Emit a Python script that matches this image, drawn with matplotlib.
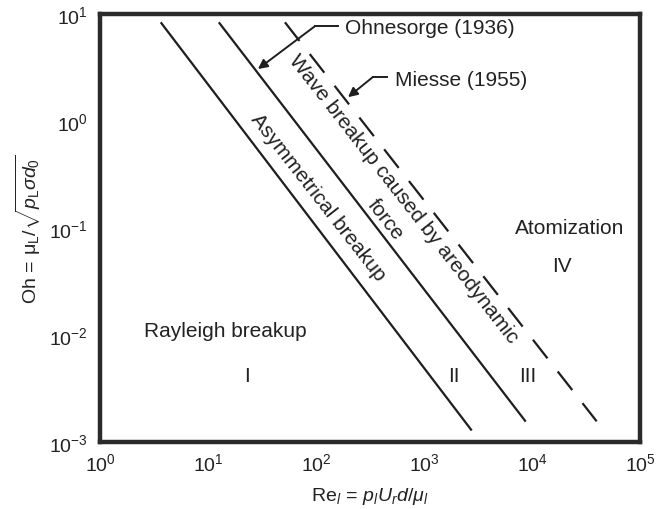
import matplotlib
matplotlib.use('Agg')
import matplotlib.pyplot as plt
from matplotlib import rcParams

# Regime boundaries: end points of straight lines in log-log
re_asym = [3.65, 2766]
oh_asym = [8.36, 1.28e-3]
re_ohnesorge = [12.6, 8750]
oh_ohnesorge = [8.36, 1.55e-3]
re_miesse = [51.6, 39700]
oh_miesse = [8.36, 1.56e-3]

# Region labels
region_text = ['Rayleigh breakup', 'I', 'II', 'III', 'Atomization', 'IV']
region_re = [14.4, 23, 1896, 9180, 22500, 18800]
region_oh = [0.0111, 0.00414, 0.00414, 0.00414, 0.102, 0.0444]

# Labels running along the lines
slant_text = ['Asymmetrical breakup', 'Wave breakup caused by areodynamic', 'force']
slant_re = [104, 650, 435]
slant_oh = [0.195, 0.19, 0.121]

# Callouts: text anchor, elbow, arrow tip
ohn_text = (186, 7.4)
ohn_path = [(160, 7.7), (97.9, 7.7), (29, 3.06)]
mie_text = (539, 2.42)
mie_path = [(454, 2.58), (337, 2.58), (198, 1.67)]

rcParams['font.family'] = 'Liberation Sans'
rcParams['mathtext.fontset'] = 'custom'
rcParams['mathtext.rm'] = 'Liberation Sans'
rcParams['mathtext.it'] = 'Liberation Sans:italic'
rcParams['mathtext.bf'] = 'Liberation Sans:bold'
rcParams['lines.scale_dashes'] = False

fig = plt.figure(figsize=(6.6, 5.1), dpi=100)
ax = fig.add_axes([0.1515, 0.1314, 0.8182, 0.8392])

lc = '#1e1e1e'
ax.plot(re_asym, oh_asym, color=lc, lw=1.6, solid_capstyle='butt')
ax.plot(re_ohnesorge, oh_ohnesorge, color=lc, lw=1.6, solid_capstyle='butt')
ax.plot(re_miesse, oh_miesse, color=lc, lw=1.6, dashes=(17, 12),
        dash_capstyle='butt')

ax.set_xscale('log')
ax.set_yscale('log')
ax.set_xlim(1, 1e5)
ax.set_ylim(1e-3, 1e1)
ax.minorticks_off()
ax.set_xticks([1, 10, 100, 1e3, 1e4, 1e5])
ax.set_yticks([1e-3, 1e-2, 1e-1, 1, 10])
ax.tick_params(length=0, labelsize=14, colors='#222222')
ax.tick_params(axis='x', pad=7)
ax.tick_params(axis='y', pad=9)

for s in ax.spines.values():
    s.set_linewidth(3.2)
    s.set_color('#2a2a2a')

fs = 15
for t, x, y in zip(region_text, region_re, region_oh):
    ax.text(x, y, t, fontsize=fs, ha='center', va='center', color='#222222')

for t, x, y in zip(slant_text, slant_re, slant_oh):
    ax.text(x, y, t, fontsize=fs, ha='center', va='center', rotation=-52,
            rotation_mode='anchor', color='#222222')

# Ohnesorge (1936) callout
ax.text(ohn_text[0], ohn_text[1], 'Ohnesorge (1936)', fontsize=fs,
        ha='left', va='center', color='#222222')
ax.plot([p[0] for p in ohn_path[:2]], [p[1] for p in ohn_path[:2]],
        color=lc, lw=1.4)
ax.annotate('', xy=ohn_path[2], xytext=ohn_path[1],
            arrowprops=dict(arrowstyle='-|>', color=lc, lw=1.4,
                            mutation_scale=14, shrinkA=0, shrinkB=0))

# Miesse (1955) callout
ax.text(mie_text[0], mie_text[1], 'Miesse (1955)', fontsize=fs,
        ha='left', va='center', color='#222222')
ax.plot([p[0] for p in mie_path[:2]], [p[1] for p in mie_path[:2]],
        color=lc, lw=1.4)
ax.annotate('', xy=mie_path[2], xytext=mie_path[1],
            arrowprops=dict(arrowstyle='-|>', color=lc, lw=1.4,
                            mutation_scale=14, shrinkA=0, shrinkB=0))

ax.set_xlabel(r'Re$_{\mathit{l}}\,=\,\mathit{p_l U_r d/\mu_l}$', fontsize=14,
              labelpad=8, color='#222222')
ax.set_ylabel(r'Oh$\,=\,\mathrm{\mu_L}/\sqrt{\mathit{p}_{\mathrm{L}}\mathit{\sigma d}_0}$',
              fontsize=14, labelpad=4, color='#222222')

fig.savefig('out.png', dpi=100)
